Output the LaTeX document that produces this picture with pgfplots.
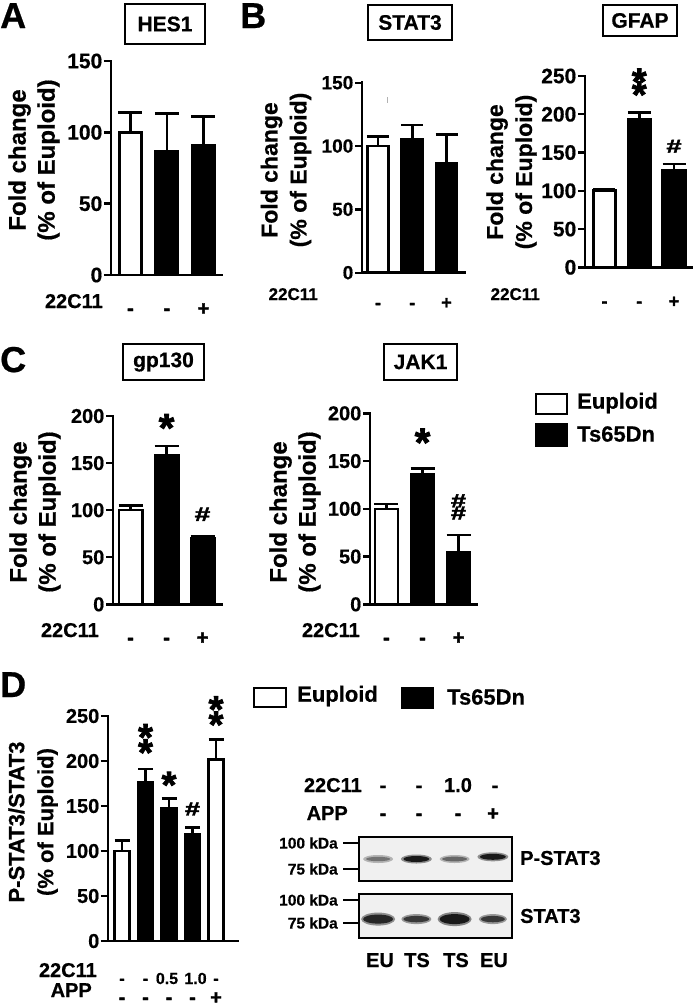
\documentclass[border=0pt]{standalone}
\usepackage{pgfplots}
\pgfplotsset{compat=1.18}
\usepackage{graphicx}
\usepackage{fontspec}
\setmainfont{Liberation Sans}
\newfontfamily\lsb{Liberation Sans Bold}[FakeBold=0.6]
\newfontfamily\lsbh{Liberation Sans Bold}[FakeBold=2]
\newcommand{\myfs}[1]{\fontsize{#1}{#1}\selectfont}

\pgfplotsset{
  gp/.style={
    scale only axis, anchor=south west, clip=false,
    axis lines=left, axis line style={-, line width=2.6pt, black, line cap=rect},
    ymin=0,
    tick align=outside, major tick length=7pt,
    ytick style={line width=2.4pt, black},
    xtick style={draw=none},
    yticklabel={\lsb\pgfmathprintnumber{\tick}},
    yticklabel style={font={\lsb\fontsize{21}{21}\selectfont}, inner sep=1.5pt},
    xticklabel style={anchor=base, inner sep=0pt, font={\lsb\fontsize{20}{20}\selectfont}},
    /pgf/number format/assume math mode=true,
    xtick={1,2,3}, xticklabels={{\lsbh -},{\lsbh -},{\lsbh +}},
  },
  wb/.style={ybar, bar shift=0pt, fill=white, draw=black, line width=2.6pt,
    error bars/y dir=plus, error bars/y explicit,
    error bars/error bar style={line width=2.6pt, black},
    error bars/error mark options={rotate=90, line width=2.6pt, mark size=#1pt, black}},
  bb/.style={wb=#1, fill=black},
}
\newcommand{\sig}[4]{\node[font={\lsbh\fontsize{#3}{#3}\selectfont}, inner sep=0pt, anchor=base, yshift={-#4*#3pt}] at (axis cs:#1,#2) {*};}
\newcommand{\hsh}[4]{\node[font={\lsbh\fontsize{#3}{#3}\selectfont}, inner sep=0pt, anchor=base, yshift={-#4*#3pt}] at (axis cs:#1,#2) {\scalebox{1}[0.7]{\#}};}
\newcommand{\tbox}[5]{\node[draw=black, line width=1.4pt, minimum width=#3pt, minimum height=#4pt, inner sep=0pt, font={\lsb\myfs{21}}] at (#1pt,-#2pt) {#5};}
\newcommand{\ylab}[5]{\node[rotate=90, align=center, font={\lsb\fontsize{#3}{29}\selectfont}, inner sep=0pt] at (#1pt,-#2pt) {#4\\#5};}

\begin{document}
\begin{tikzpicture}
\useasboundingbox (0pt,0pt) rectangle (693pt,-1005pt);

% ---------------- Panel A : HES1
\node[anchor=base west, inner sep=0pt, font={\lsb\myfs{36}}] at (0pt,-28pt) {A};
\tbox{165}{24}{80}{40}{HES1}
\ylab{34}{160}{24}{Fold change}{(\% of Euploid)}
\begin{axis}[gp, at={(111pt,-275pt)}, width=111pt, height=214pt,
  xmin=0.466, xmax=3.507, ymax=150, ytick={0,50,100,150}, bar width=0.614,
  xticklabel style={yshift=-33pt}]
\addplot[wb=12] coordinates {(1,100) +- (0,14)};
\addplot[bb=12] coordinates {(2,87) +- (0,26) (3,91) +- (0,20)};
\end{axis}
\node[anchor=base east, inner sep=0pt, font={\lsb\myfs{20}}] at (103pt,-308pt) {22C11};

% ---------------- Panel B : STAT3
\node[anchor=base west, inner sep=0pt, font={\lsb\myfs{36}}] at (240pt,-28pt) {B};
\tbox{410}{22.5}{84}{35}{STAT3}
\ylab{286}{170}{23}{Fold change}{(\% of Euploid)}
\begin{axis}[gp, at={(362pt,-272.7pt)}, width=103pt, height=190pt,
  xmin=0.533, xmax=3.54, ymax=150, ytick={0,50,100,150}, bar width=0.62,
  yticklabel style={font={\lsb\fontsize{19}{19}\selectfont}},
  xticklabel style={yshift=-29pt, font={\lsb\fontsize{18}{18}\selectfont}}]
\addplot[wb=11] coordinates {(1,100) +- (0,7.5)};
\addplot[bb=11] coordinates {(2,105.5) +- (0,11) (3,86) +- (0,23)};
\draw[gray!60, line width=1pt] (axis cs:1.28,134) -- (axis cs:1.28,139);
\end{axis}
\node[anchor=base east, inner sep=0pt, font={\lsb\myfs{17}}] at (318pt,-300pt) {22C11};

% ---------------- GFAP
\tbox{640}{20.5}{74}{31}{GFAP}
\ylab{511.5}{172}{23}{Fold change}{(\% of Euploid)}
\begin{axis}[gp, at={(585pt,-267.3pt)}, width=107pt, height=191.3pt,
  xmin=0.439, xmax=3.518, ymax=250, ytick={0,50,100,150,200,250}, bar width=0.645,
  xticklabel style={yshift=-33pt, font={\lsb\fontsize{18}{18}\selectfont}}]
\addplot[wb=11] coordinates {(1,100) +- (0,2.5)};
\addplot[bb=11.5] coordinates {(2,194) +- (0,8) (3,127) +- (0,8)};
\sig{2}{248}{38}{0.45}
\sig{2}{231}{38}{0.45}
\hsh{3}{158.6}{27}{0.25}
\end{axis}
\node[anchor=base east, inner sep=0pt, font={\lsb\myfs{17}}] at (540pt,-300pt) {22C11};

% ---------------- Panel C : gp130
\node[anchor=base west, inner sep=0pt, font={\lsb\myfs{36}}] at (0pt,-372pt) {C};
\tbox{163.5}{362}{81}{36}{gp130}
\ylab{35}{512}{24}{Fold change}{(\% of Euploid)}
\begin{axis}[gp, at={(113pt,-604.3pt)}, width=109pt, height=188.3pt,
  xmin=0.514, xmax=3.54, ymax=200, ytick={0,50,100,150,200}, bar width=0.65,
  yticklabel style={font={\lsb\fontsize{20}{20}\selectfont}},
  xticklabel style={yshift=-33pt}]
\addplot[wb=12] coordinates {(1,100) +- (0,5)};
\addplot[bb=12] coordinates {(2,158.5) +- (0,9.5) (3,70) +- (0,2)};
\sig{2}{192}{40}{0.45}
\hsh{3}{96}{28}{0.25}
\end{axis}
\node[anchor=base east, inner sep=0pt, font={\lsb\myfs{20}}] at (99pt,-637pt) {22C11};

% ---------------- JAK1
\tbox{420.5}{362}{73}{36}{JAK1}
\ylab{295}{512}{24}{Fold change}{(\% of Euploid)}
\begin{axis}[gp, at={(370pt,-604.3pt)}, width=106.7pt, height=191pt,
  xmin=0.542, xmax=3.505, ymax=200, ytick={0,50,100,150,200}, bar width=0.64,
  yticklabel style={font={\lsb\fontsize{20}{20}\selectfont}},
  xticklabel style={yshift=-33pt}]
\addplot[wb=12] coordinates {(1,100) +- (0,5)};
\addplot[bb=12] coordinates {(2,136) +- (0,6.5) (3,54.5) +- (0,18)};
\sig{2}{174}{40}{0.45}
\hsh{3}{108.7}{27}{0.25}
\hsh{3}{96}{27}{0.25}
\end{axis}
\node[anchor=base east, inner sep=0pt, font={\lsb\myfs{20}}] at (360pt,-637pt) {22C11};

% legend C
\draw[line width=2.2pt, fill=white] (536pt,-394pt) rectangle (567pt,-414pt);
\fill[black] (535pt,-423pt) rectangle (568pt,-447pt);
\node[anchor=west, inner sep=0pt, font={\lsb\myfs{22}}] at (577pt,-403pt) {Euploid};
\node[anchor=west, inner sep=0pt, font={\lsb\myfs{22}}] at (577pt,-434pt) {Ts65Dn};

% ---------------- Panel D
\node[anchor=base west, inner sep=0pt, font={\lsb\myfs{36}}] at (0pt,-697pt) {D};
\ylab{33}{822}{22}{P-STAT3/STAT3}{(\% of Euploid)}
\begin{axis}[gp, at={(108pt,-941pt)}, width=130pt, height=225pt,
  xmin=0.404, xmax=5.936, ymax=250, ytick={0,50,100,150,200,250}, bar width=0.64,
  yticklabel style={font={\lsb\fontsize{20}{20}\selectfont}},
  xtick={1,2,3,4,5}, xticklabels={{\lsbh -},{\lsbh -},{\hspace*{-4pt}0.5},{\hspace*{6pt}1.0},{\lsbh -}},
  xticklabel style={yshift=-36pt, font={\lsb\fontsize{16}{16}\selectfont}},
  extra x ticks={1,2,3,4,5}, extra x tick labels={{\lsbh -},{\lsbh -},{\lsbh -},{\lsbh -},{\lsbh +}},
  extra x tick style={xticklabel style={yshift=-20pt, font={\lsb\fontsize{20}{20}\selectfont}}}]
\addplot[wb=7.5] coordinates {(1,100) +- (0,12) (5,202) +- (0,22)};
\addplot[bb=7.5] coordinates {(2,176) +- (0,15) (3,147) +- (0,11.5) (4,118.5) +- (0,7.5)};
\sig{2}{231}{38}{0.45}
\sig{2}{214}{38}{0.45}
\sig{3}{178}{38}{0.45}
\hsh{4}{147}{27}{0.25}
\sig{5}{262}{38}{0.45}
\sig{5}{245}{38}{0.45}
\end{axis}
\node[anchor=base east, inner sep=0pt, font={\lsb\myfs{20}}] at (97pt,-977pt) {22C11};
\node[anchor=base east, inner sep=0pt, font={\lsb\myfs{20}}] at (92pt,-997pt) {APP};

% legend D
\draw[line width=2.2pt, fill=white] (254pt,-688pt) rectangle (286pt,-707pt);
\fill[black] (401pt,-687pt) rectangle (434pt,-709pt);
\node[anchor=west, inner sep=0pt, font={\lsb\myfs{22}}] at (297pt,-696pt) {Euploid};
\node[anchor=west, inner sep=0pt, font={\lsb\myfs{22}}] at (447pt,-697pt) {Ts65Dn};

% blot labels
\node[anchor=base east, inner sep=0pt, font={\lsb\myfs{20}}] at (362pt,-792pt) {22C11};
\node[anchor=base east, inner sep=0pt, font={\lsb\myfs{20}}] at (348pt,-820pt) {APP};
\foreach \xx/\tt in {383/-,419/-,458/1.0,495/-}
  \node[anchor=base, inner sep=0pt, font={\lsb\myfs{20}}] at (\xx pt,-792pt) {\tt};
\foreach \xx/\tt in {383/-,419/-,458/-,493/+}
  \node[anchor=base, inner sep=0pt, font={\lsbh\myfs{20}}] at (\xx pt,-820pt) {\tt};

% blot 1 : P-STAT3
\begin{axis}[scale only axis, anchor=south west, at={(359pt,-881pt)}, width=153pt, height=44pt,
  xmin=0.5, xmax=4.5, ymin=0, ymax=1, xtick=\empty, ytick=\empty, clip=true,
  axis line style={line width=2pt, black}, axis background/.style={fill=gray!12}]
\fill[black!45, opacity=0.6] (axis cs:1,0.5) ellipse [x radius=15pt, y radius=4pt];
\fill[black!55] (axis cs:1,0.5) ellipse [x radius=12pt, y radius=2.2pt];
\fill[black!60, opacity=0.7] (axis cs:2,0.5) ellipse [x radius=15.5pt, y radius=4.5pt];
\fill[black!90] (axis cs:2,0.5) ellipse [x radius=13pt, y radius=3pt];
\fill[black!45, opacity=0.6] (axis cs:3,0.5) ellipse [x radius=15pt, y radius=4pt];
\fill[black!60] (axis cs:3,0.5) ellipse [x radius=12.5pt, y radius=2.4pt];
\fill[black!60, opacity=0.7] (axis cs:4,0.55) ellipse [x radius=15.5pt, y radius=4.5pt];
\fill[black!90] (axis cs:4,0.55) ellipse [x radius=13pt, y radius=3pt];
\end{axis}
% blot 2 : STAT3
\begin{axis}[scale only axis, anchor=south west, at={(359pt,-938pt)}, width=153pt, height=44pt,
  xmin=0.5, xmax=4.5, ymin=0, ymax=1, xtick=\empty, ytick=\empty, clip=true,
  axis line style={line width=2pt, black}, axis background/.style={fill=gray!12}]
\fill[black!60, opacity=0.7] (axis cs:1,0.43) ellipse [x radius=17pt, y radius=6.5pt];
\fill[black!85] (axis cs:1,0.43) ellipse [x radius=15pt, y radius=4.5pt];
\fill[black!55, opacity=0.7] (axis cs:2,0.43) ellipse [x radius=15pt, y radius=5pt];
\fill[black!78] (axis cs:2,0.43) ellipse [x radius=13pt, y radius=3.2pt];
\fill[black!65, opacity=0.7] (axis cs:3,0.43) ellipse [x radius=17pt, y radius=7pt];
\fill[black!90] (axis cs:3,0.43) ellipse [x radius=15pt, y radius=5pt];
\fill[black!55, opacity=0.7] (axis cs:4,0.43) ellipse [x radius=14pt, y radius=5pt];
\fill[black!78] (axis cs:4,0.43) ellipse [x radius=12pt, y radius=3.2pt];
\end{axis}

% kDa markers
\foreach \yy/\tt in {843/100 kDa,869/75 kDa,900/100 kDa,923/75 kDa}{
  \node[anchor=east, inner sep=0pt, font={\lsb\myfs{15.5}}] at (338pt,-\yy pt) {\tt};
  \draw[line width=2pt] (343pt,-\yy pt) -- (359pt,-\yy pt);
}
\node[anchor=west, inner sep=0pt, font={\lsb\myfs{20}}] at (520pt,-858pt) {P-STAT3};
\node[anchor=west, inner sep=0pt, font={\lsb\myfs{20}}] at (520pt,-916pt) {STAT3};
\foreach \xx/\tt in {380/EU,417/TS,456/TS,494/EU}
  \node[anchor=base, inner sep=0pt, font={\lsb\myfs{20}}] at (\xx pt,-967pt) {\tt};

\end{tikzpicture}
\end{document}
